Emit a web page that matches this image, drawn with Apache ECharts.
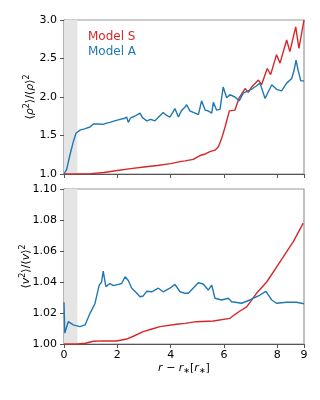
<!DOCTYPE html>
<html>
<head>
<meta charset="utf-8">
<script src="https://cdn.jsdelivr.net/npm/echarts@6/dist/echarts.min.js"></script>
<style>html,body{margin:0;padding:0;background:#fff}#c{width:320px;height:400px}</style>
</head>
<body>
<div id="c"></div>
<script>
const seriesNames = ['Model S', 'Model A'];
const xTicks = [0, 2, 4, 6, 8];
const shadedRange = [0, 0.5];

const topA = [[0,1.0],[0.1,1.06],[0.225,1.25],[0.35,1.42],[0.45,1.53],[0.6,1.57],[0.8,1.59],[0.975,1.61],[1.1,1.65],[1.16,1.66],[1.3,1.65],[1.47,1.645],[1.6,1.66],[1.72,1.67],[1.9,1.69],[2.1,1.71],[2.25,1.72],[2.35,1.74],[2.41,1.67],[2.5,1.73],[2.65,1.75],[2.85,1.79],[2.95,1.73],[3.1,1.69],[3.25,1.71],[3.41,1.69],[3.55,1.74],[3.72,1.80],[3.85,1.76],[3.97,1.74],[4.08,1.80],[4.16,1.85],[4.29,1.74],[4.4,1.82],[4.54,1.87],[4.6,1.90],[4.72,1.82],[4.85,1.80],[5.04,1.77],[5.16,1.95],[5.29,1.83],[5.4,1.82],[5.54,1.79],[5.6,1.93],[5.72,1.83],[5.85,1.84],[5.97,2.13],[6.1,1.99],[6.22,2.03],[6.41,2.00],[6.57,1.95],[6.72,2.05],[6.91,2.08],[7.07,2.11],[7.2,2.14],[7.35,2.18],[7.54,1.98],[7.79,2.16],[7.97,2.10],[8.16,2.08],[8.35,2.18],[8.54,2.24],[8.63,2.35],[8.7,2.48],[8.78,2.35],[8.88,2.21],[9.0,2.21]];
const topS = [[0,1.0],[0.5,1.0],[1.0,1.005],[1.5,1.02],[2.0,1.045],[2.5,1.07],[3.0,1.09],[3.5,1.11],[4.0,1.135],[4.35,1.16],[4.54,1.17],[4.85,1.19],[5.1,1.24],[5.3,1.26],[5.47,1.29],[5.66,1.31],[5.79,1.355],[5.91,1.46],[6.04,1.61],[6.2,1.82],[6.41,1.83],[6.57,1.99],[6.79,2.11],[6.91,2.06],[7.04,2.13],[7.29,2.22],[7.41,2.16],[7.62,2.37],[7.75,2.29],[7.97,2.55],[8.1,2.44],[8.35,2.74],[8.47,2.59],[8.69,2.91],[8.81,2.63],[8.88,2.65],[9.0,3.0]];
const botA = [[0,1.027],[0.03,1.007],[0.16,1.0144],[0.35,1.0123],[0.6,1.0112],[0.79,1.0123],[0.975,1.0198],[1.16,1.026],[1.32,1.038],[1.41,1.040],[1.47,1.047],[1.57,1.037],[1.72,1.039],[1.85,1.0377],[2.04,1.0385],[2.16,1.039],[2.29,1.0434],[2.41,1.041],[2.54,1.036],[2.66,1.034],[2.85,1.0305],[2.97,1.031],[3.1,1.034],[3.29,1.0337],[3.54,1.036],[3.72,1.0337],[3.97,1.036],[4.16,1.0385],[4.35,1.0337],[4.54,1.0327],[4.66,1.0327],[5.04,1.0395],[5.22,1.0387],[5.41,1.0348],[5.54,1.038],[5.66,1.0295],[5.91,1.0284],[6.16,1.0295],[6.29,1.0273],[6.66,1.0263],[6.97,1.0284],[7.35,1.0316],[7.57,1.034],[7.79,1.0284],[7.97,1.0263],[8.35,1.0269],[8.72,1.0269],[9.0,1.026]];
const botS = [[0,1.0],[0.5,1.0],[0.8,1.0005],[1.1,1.0018],[1.5,1.002],[1.97,1.0019],[2.35,1.0032],[2.6,1.005],[2.97,1.008],[3.3,1.0097],[3.6,1.0112],[4.22,1.0127],[4.54,1.0133],[4.97,1.0144],[5.6,1.0148],[6.22,1.0165],[6.4,1.019],[6.6,1.0213],[6.85,1.024],[7.22,1.0327],[7.6,1.040],[8.1,1.053],[8.6,1.066],[8.97,1.078]];

const RED = '#d62728', BLUE = '#1f77b4';
const FONT = 'DejaVu Sans';
const chart = echarts.init(document.getElementById('c'), null, {renderer: 'canvas'});

function xAxis(idx, showLabels) {
  return {
    type: 'value', gridIndex: idx, min: 0, max: 9, interval: 2,
    axisLine: {show: true, lineStyle: {color: '#555', width: 1.2}},
    axisTick: {show: true, length: 4, lineStyle: {color: '#555'}},
    axisLabel: {show: showLabels, color: '#000', fontFamily: FONT, fontSize: 11, margin: 6},
    splitLine: {show: false},
    name: showLabels ? '{i|r} − {i|r}{s|∗}[{i|r}{s|∗}]' : '',
    nameLocation: 'middle', nameGap: 18,
    nameTextStyle: {fontFamily: FONT, fontSize: 11, color: '#000',
      rich: {i: {fontStyle: 'italic', fontFamily: FONT, fontSize: 11}, s: {fontFamily: FONT, fontSize: 8, padding: [5,0,0,0]}}}
  };
}
function yAxis(idx, min, max, interval, dec, name, gap) {
  return {
    type: 'value', gridIndex: idx, min: min, max: max, interval: interval,
    axisLine: {show: true, lineStyle: {color: '#555', width: 1.2}},
    axisTick: {show: true, length: 4, lineStyle: {color: '#555'}},
    axisLabel: {color: '#000', fontFamily: FONT, fontSize: 11, margin: 7,
      formatter: v => v.toFixed(dec)},
    splitLine: {show: false},
    name: name, nameLocation: 'middle', nameRotate: 90, nameGap: gap,
    nameMoveOverlap: false,
    nameTextStyle: {fontFamily: FONT, fontSize: 11, color: '#000',
      rich: {i: {fontStyle: 'italic', fontFamily: FONT, fontSize: 11}, s: {fontFamily: FONT, fontSize: 8, padding: [0,0,6,0]}}}
  };
}
function line(name, data, color, xi, yi, shade) {
  const s = {
    name: name, type: 'line', data: data, xAxisIndex: xi, yAxisIndex: yi,
    showSymbol: false, symbol: 'none', smooth: false,
    lineStyle: {color: color, width: 1.4}, itemStyle: {color: color},
    z: 3, clip: true
  };
  if (shade) {
    s.markArea = {silent: true, itemStyle: {color: '#e5e5e5'},
      data: [[{xAxis: shadedRange[0]}, {xAxis: shadedRange[1]}]]};
  }
  return s;
}

chart.setOption({
  animation: false,
  backgroundColor: '#fff',
  grid: [
    {left: 64, top: 20, width: 240, height: 154, show: true, borderColor: '#999', borderWidth: 1.2, backgroundColor: 'transparent'},
    {left: 64, top: 189, width: 240, height: 155, show: true, borderColor: '#999', borderWidth: 1.2, backgroundColor: 'transparent'}
  ],
  legend: {
    show: true, left: 78, top: 26, orient: 'vertical', itemWidth: 0, itemHeight: 0, itemGap: 3,
    icon: 'rect',
    data: [
      {name: seriesNames[0], textStyle: {color: RED}},
      {name: seriesNames[1], textStyle: {color: BLUE}}
    ],
    textStyle: {fontFamily: FONT, fontSize: 12}
  },
  xAxis: [xAxis(0, false), xAxis(1, true)],
  yAxis: [
    yAxis(0, 1, 3, 0.5, 1, '⟨{i|ρ}{s|2}⟩/⟨{i|ρ}⟩{s|2}', 27),
    yAxis(1, 1.0, 1.1, 0.02, 2, '⟨{i|v}{s|2}⟩/⟨{i|v}⟩{s|2}', 31)
  ],
  series: [
    line(seriesNames[0], topS, RED, 0, 0, true),
    line(seriesNames[1], topA, BLUE, 0, 0, false),
    line(seriesNames[0], botS, RED, 1, 1, true),
    line(seriesNames[1], botA, BLUE, 1, 1, false)
  ]
});
</script>
</body>
</html>
